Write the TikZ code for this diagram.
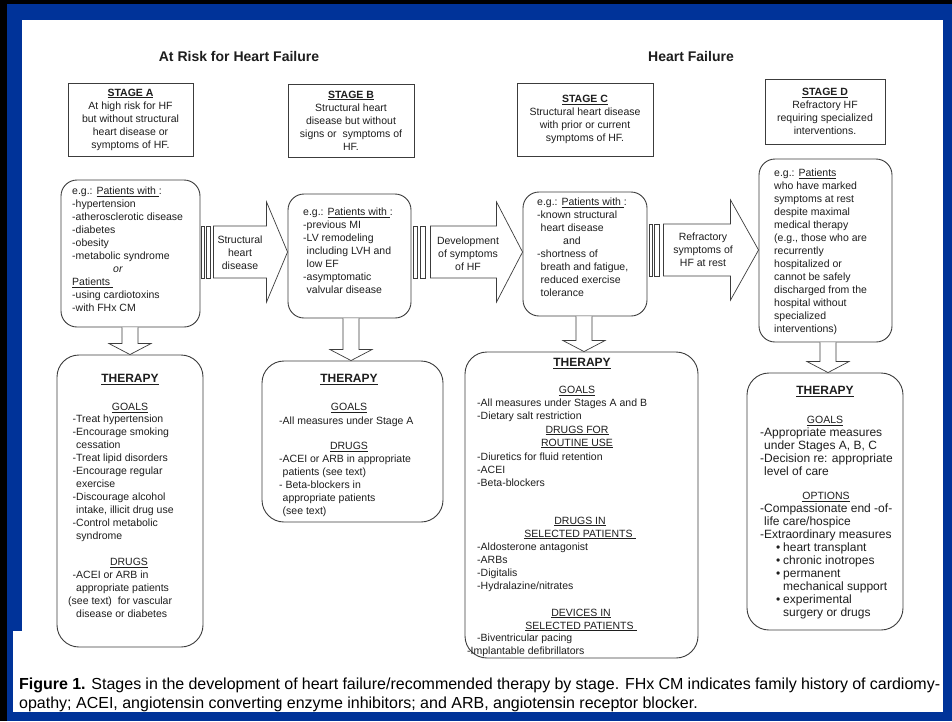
\documentclass[tikz,border=0pt]{standalone}
\usepackage{fontspec}
\setmainfont{Liberation Sans}
\usetikzlibrary{calc}

\definecolor{framebl}{RGB}{0,51,153}
\definecolor{ink}{RGB}{30,30,30}
\definecolor{edge}{RGB}{60,60,60}

\newcommand\bul{\makebox[7pt][l]{\textbullet}}

% striped right arrow: #1 source node, #2 target node, #3 y level,
% #4 length of the striped part, #5 head length
\newcommand\stripearrow[5]{%
  \coordinate (sa-tail) at (#1.east |- #3);
  \coordinate (sa-tip) at (#2.west |- #3);
  \draw[arrowline] ($(sa-tail)+(#4,-26)$) -- ($(sa-tip)+(-#5,-26)$)
    -- ($(sa-tip)+(-#5,-50)$) -- (sa-tip) -- ($(sa-tip)+(-#5,50)$)
    -- ($(sa-tip)+(-#5,26)$) -- ($(sa-tail)+(#4,26)$) -- cycle;
  \draw[arrowline] ($(sa-tail)+(0.1*#4,-26)$) rectangle ($(sa-tail)+(0.3*#4,26)$);
  \draw[arrowline] ($(sa-tail)+(0.45*#4,-26)$) rectangle ($(sa-tail)+(0.75*#4,26)$);
}
% block arrow pointing down: #1 source node, #2 target node, #3 x level
\newcommand\dnarrow[3]{%
  \coordinate (da-top) at (#3 |- #1.south);
  \coordinate (da-tip) at (#3 |- #2.north);
  \draw[arrowline] ($(da-top)+(-8,0)$) -- ($(da-tip)+(-8,-11)$)
    -- ($(da-tip)+(-21,-11)$) -- (da-tip) -- ($(da-tip)+(21,-11)$)
    -- ($(da-tip)+(8,-11)$) -- ($(da-top)+(8,0)$);
}

\tikzset{
  every node/.style={inner sep=0pt, text=ink},
  txt/.style={font=\fontsize{10.5}{13}\selectfont},
  txtD/.style={font=\fontsize{12}{13}\selectfont},
  body/.style={txt, align=left, anchor=north west},
  bodyD/.style={txtD, align=left, anchor=north west},
  sub/.style={txt, anchor=base},
  subc/.style={txt, align=center, anchor=north},
  thead/.style={font=\fontsize{12}{14}\selectfont\bfseries, anchor=base},
  title/.style={font=\fontsize{14}{16}\selectfont\bfseries},
  stagebox/.style={draw=edge, line width=1pt, txt, align=center},
  patbox/.style={draw=edge, line width=0.9pt, rounded corners=16pt},
  therbox/.style={draw=edge, line width=0.9pt, rounded corners=22pt},
  arrowline/.style={draw=edge, line width=0.7pt, fill=white, line join=miter},
  captxt/.style={font=\fontsize{16}{19}\selectfont, anchor=base west, text=black},
}

\begin{document}
\begin{tikzpicture}[x=1pt, y=-1pt]
\useasboundingbox (0,0) rectangle (952,721);

% frame
\fill[black] (0,0) rectangle (952,721);
\fill[framebl] (7,4) rectangle (952,721);
\fill[white] (22,20) rectangle (943,632);
\fill[white] (13,631) rectangle (943,712);

% headings
\node[title] (tRisk) at (239,56) {At Risk for Heart Failure};
\node[title] (tHF) at (691,56) {Heart Failure};

% stage boxes
\node[stagebox, minimum width=125pt, minimum height=73pt] (sA) at (130.5,119.5)
  {\textbf{\underline{STAGE A}}\\At high risk for HF\\but without structural\\heart disease or\\symptoms of HF.};
\node[stagebox, minimum width=126pt, minimum height=73pt] (sB) at (351,120.5)
  {\textbf{\underline{STAGE B}}\\Structural heart\\disease but without\\signs or\ \ symptoms of\\HF.};
\node[stagebox, minimum width=136pt, minimum height=73pt] (sC) at (585,119.5)
  {\textbf{\underline{STAGE C}}\\Structural heart disease\\with prior or current\\symptoms of HF.};
\node[stagebox, minimum width=120pt, minimum height=65pt] (sD) at (825,111.5)
  {\textbf{\underline{STAGE D}}\\Refractory HF\\requiring specialized\\interventions.};

% patient boxes
\node[patbox, minimum width=139pt, minimum height=147pt] (pA) at (130.5,253.5) {};
\node[patbox, minimum width=123pt, minimum height=124pt] (pB) at (349.5,256) {};
\node[patbox, minimum width=124pt, minimum height=124pt] (pC) at (585,254) {};
\node[patbox, minimum width=133pt, minimum height=183pt] (pD) at (825.5,250.5) {};

\node[body] (pAt) at (72,185.5) {\strut e.g.: \underline{Patients with }:\\-hypertension\\-atherosclerotic disease\\-diabetes\\-obesity\\-metabolic syndrome\\\hspace*{41pt}\textit{or}\\\underline{Patients }\\-using cardiotoxins\\-with FHx CM};
\node[body] (pBt) at (303,206.5) {\strut e.g.: \underline{Patients with }:\\-previous MI\\-LV remodeling\\\phantom{-}including LVH and\\\phantom{-}low EF\\-asymptomatic\\\phantom{-}valvular disease};
\node[body] (pCt) at (537,196.5) {\strut e.g.: \underline{Patients with }:\\-known structural\\\phantom{-}heart disease\\\hspace*{26pt}and\\-shortness of\\\phantom{-}breath and fatigue,\\\phantom{-}reduced exercise\\\phantom{-}tolerance};
\node[body] (pDt) at (774,167.5) {\strut e.g.: \underline{Patients}\\who have marked\\symptoms at rest\\despite maximal\\medical therapy\\(e.g., those who are\\recurrently\\hospitalized or\\cannot be safely\\discharged from the\\hospital without\\specialized\\interventions)};

% transitions between stages
\coordinate (yAB) at (0,252);
\coordinate (yBC) at (0,252);
\coordinate (yCD) at (0,250);
\stripearrow{pA}{pB}{yAB}{13}{21}
\stripearrow{pB}{pC}{yBC}{19}{26}
\stripearrow{pC}{pD}{yCD}{16}{28}
\node[txt, align=center] (aAB) at (240,253) {Structural\\heart\\disease};
\node[txt, align=center] (aBC) at (468,253.5) {Development\\of symptoms\\of HF};
\node[txt, align=center] (aCD) at (703,250) {Refractory\\symptoms of\\HF at rest};

% therapy boxes
\node[therbox, minimum width=146pt, minimum height=292pt] (thA) at (130,501) {};
\node[therbox, minimum width=181pt, minimum height=161pt] (thB) at (352.5,441.5) {};
\node[therbox, minimum width=233pt, minimum height=306pt] (thC) at (581.5,505) {};
\node[therbox, minimum width=156pt, minimum height=257pt] (thD) at (825,501.5) {};

\coordinate (xA) at (130,0);
\coordinate (xB) at (351,0);
\coordinate (xC) at (584,0);
\coordinate (xD) at (828,0);
\dnarrow{pA}{thA}{xA}
\dnarrow{pB}{thB}{xB}
\dnarrow{pC}{thC}{xC}
\dnarrow{pD}{thD}{xD}

% therapy, stage A
\node[thead] (thAh) at (130,382.3) {\underline{THERAPY}};
\node[sub] (thAg) at (130,410.8) {\underline{GOALS}};
\node[body] (thAgl) at (72.5,413.5) {\strut -Treat hypertension\\-Encourage smoking\\\phantom{-}cessation\\-Treat lipid disorders\\-Encourage regular\\\phantom{-}exercise\\-Discourage alcohol\\\phantom{-}intake, illicit drug use\\-Control metabolic\\\phantom{-}syndrome};
\node[sub] (thAd) at (129,565.8) {\underline{DRUGS}};
\node[body] (thAdl) at (72.5,569.5) {\strut -ACEI or ARB in\\\phantom{-}appropriate patients\\\hspace*{-4.5pt}(see text)\ \ for vascular\\\phantom{-}disease or diabetes};

% therapy, stage B
\node[thead] (thBh) at (349,382.3) {\underline{THERAPY}};
\node[sub] (thBg) at (349,410.8) {\underline{GOALS}};
\node[body] (thBgl) at (279,415.5) {\strut -All measures under Stage A};
\node[sub] (thBd) at (349,449.8) {\underline{DRUGS}};
\node[body] (thBdl) at (279,453.5) {\strut -ACEI or ARB in appropriate\\\phantom{-}patients (see text)\\- Beta-blockers in\\\phantom{-}appropriate patients\\\phantom{-}(see text)};

% therapy, stage C
\node[thead] (thCh) at (582,366.3) {\underline{THERAPY}};
\node[sub] (thCg) at (577,393.8) {\underline{GOALS}};
\node[body] (thCgl) at (477,397.5) {\strut -All measures under Stages A and B\\-Dietary salt restriction};
\node[subc] (thCr) at (577,423.7) {\strut\underline{DRUGS FOR}\\\underline{ROUTINE USE}};
\node[body] (thCrl) at (477,451.5) {\strut -Diuretics for fluid retention\\-ACEI\\-Beta-blockers};
\node[subc] (thCs) at (580,514.7) {\strut\underline{DRUGS IN}\\\underline{SELECTED PATIENTS }};
\node[body] (thCsl) at (477,541.5) {\strut -Aldosterone antagonist\\-ARBs\\-Digitalis\\-Hydralazine/nitrates};
\node[subc] (thCv) at (581,606.7) {\strut\underline{DEVICES IN}\\\underline{SELECTED PATIENTS }};
\node[body] (thCvl) at (477,632.5) {\strut -Biventricular pacing\\\hspace*{-10pt}-Implantable defibrillators};

% therapy, stage D
\node[thead] (thDh) at (825,394.3) {\underline{THERAPY}};
\node[sub] (thDg) at (825,423.8) {\underline{GOALS}};
\node[bodyD] (thDgl) at (760,427.5) {\strut -Appropriate measures\\\phantom{-}under Stages A, B, C\\-Decision re: appropriate\\\phantom{-}level of care};
\node[sub] (thDo) at (826,499.8) {\underline{OPTIONS}};
\node[bodyD] (thDol) at (760,503.5) {\strut -Compassionate end -of-\\\phantom{-}life care/hospice\\-Extraordinary measures};
\node[bodyD] (thDb) at (776,542.5) {\strut\bul heart transplant\\\bul chronic inotropes\\\bul permanent\\\hspace*{7pt}mechanical support\\\bul experimental\\\hspace*{7pt}surgery or drugs};

% caption
\node[captxt] (cap1) at (19,689) {\makebox[921pt][s]{\textbf{Figure 1.} Stages in the development of heart failure/recommended therapy by stage. FHx CM indicates family history of cardiomy-}};
\node[captxt] (cap2) at (19,708) {opathy; ACEI, angiotensin converting enzyme inhibitors; and ARB, angiotensin receptor blocker.};
\end{tikzpicture}
\end{document}
